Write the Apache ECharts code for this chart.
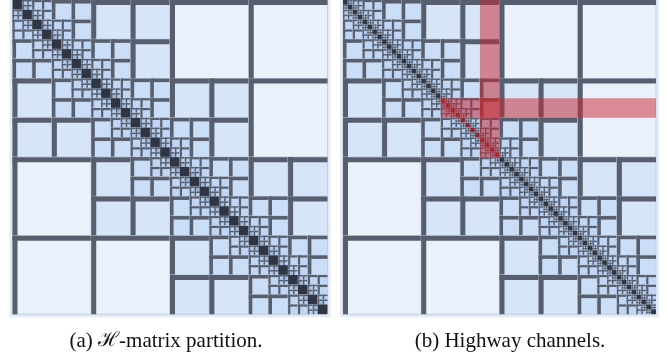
<!DOCTYPE html>
<html><head><meta charset="utf-8">
<script src="https://cdn.jsdelivr.net/npm/echarts@6/dist/echarts.min.js"></script>
<style>html,body{margin:0;padding:0;background:#fff}#c{width:668px;height:353px}</style>
</head><body><div id="c"></div>
<script>
// ---- data ----
const captions = ['(a) ', 'ℋ', '-matrix partition.', '(b) Highway channels.'];
const denseLevels = [5, 6];        // level of the dense diagonal blocks (left, right)
const admissibleGap = [2, 2];      // block (i,j) admissible when |i-j| >= gap (eta = 1)
const channelLevel = 4;            // cluster level used for highway channels
const rowChannel = [5, 5, 1, 11];  // [row, col, rows, cols] in level-4 clusters
const colChannel = [0, 7, 8, 1];
const highlightedDiag = [5, 8];    // level-4 cluster range of highlighted dense blocks

// ---- styles ----
const levelFill = ['#eef3fb', '#eef3fb', '#eaf1fb', '#d7e5f8', '#cadef7', '#bfd6f6', '#b4cff4', '#aecbf3'];
const barColor = '#575f6e';

function buildBlocks(D, gap, hlRange) {
  const N = Math.pow(2, D + 1);
  const clus = N / Math.pow(2, channelLevel);
  const out = [];
  function rec(i, j, l) {
    const s = N / Math.pow(2, l);
    if (l >= 1 && Math.abs(i - j) >= gap) { out.push([j * s, i * s, s, 0, l, 0]); return; }
    if (l === D && i === j) {
      const c = (i * s) / clus;
      const hl = hlRange && c >= hlRange[0] && c < hlRange[1] ? 1 : 0;
      out.push([j * s, i * s, s, 1, l, hl]); return;
    }
    if (l === D + 1) { out.push([j * s, i * s, s, 2, l, 0]); return; }
    for (let a = 0; a < 2; a++) for (let b = 0; b < 2; b++) rec(2 * i + a, 2 * j + b, l + 1);
  }
  rec(0, 0, 0);
  return { N, out, clus };
}

const L = buildBlocks(denseLevels[0], admissibleGap[0], null);
const R = buildBlocks(denseLevels[1], admissibleGap[1], highlightedDiag);

function renderBlock(params, api) {
  const x = api.value(0), y = api.value(1), s = api.value(2), kind = api.value(3), lvl = api.value(4), hl = api.value(5);
  const p0 = api.coord([x, y]), p1 = api.coord([x + s, y + s]);
  const X = p0[0], Y = p0[1], W = p1[0] - p0[0], H = p1[1] - p0[1];
  if (kind === 1) {
    return { type: 'rect', shape: { x: X, y: Y, width: W, height: H }, style: { fill: hl ? '#8e2731' : '#2f3543' } };
  }
  const bw = Math.min(5, 0.8 + W * 0.14);
  const fill = kind === 2 ? '#9fb9dc' : levelFill[Math.min(lvl, levelFill.length - 1)];
  return {
    type: 'group',
    children: [
      { type: 'rect', shape: { x: X, y: Y, width: W, height: H }, style: { fill: fill, stroke: '#c3cfe0', lineWidth: W > 8 ? 1 : 0.4 } },
      { type: 'rect', shape: { x: X, y: Y, width: W, height: bw }, style: { fill: barColor } },
      { type: 'rect', shape: { x: X, y: Y, width: bw, height: H }, style: { fill: barColor } }
    ]
  };
}

function renderPanel(params, api) {
  const n = api.value(0);
  const p0 = api.coord([0, 0]), p1 = api.coord([n, n]);
  return { type: 'rect', shape: { x: p0[0] - 3, y: p0[1] - 3, width: p1[0] - p0[0] + 6, height: p1[1] - p0[1] + 6 },
    style: { fill: '#e4ebf5' } };
}

function renderBand(params, api) {
  const p0 = api.coord([api.value(0), api.value(1)]);
  const p1 = api.coord([api.value(0) + api.value(2), api.value(1) + api.value(3)]);
  return { type: 'rect', shape: { x: p0[0], y: p0[1], width: p1[0] - p0[0], height: p1[1] - p0[1] },
    style: { fill: 'rgba(200,40,50,0.51)' } };
}

const bands = [rowChannel, colChannel].map(c => [c[1] * R.clus, c[0] * R.clus, c[3] * R.clus, c[2] * R.clus]);

const chart = echarts.init(document.getElementById('c'), null, { renderer: 'canvas' });
const serif = '"Liberation Serif", "DejaVu Serif", serif';
chart.setOption({
  animation: false,
  grid: [
    { left: 12.5, top: -0.75, width: 315, height: 315 },
    { left: 343, top: -0.75, width: 313, height: 315 }
  ],
  xAxis: [
    { type: 'value', gridIndex: 0, min: 0, max: L.N, show: false },
    { type: 'value', gridIndex: 1, min: 0, max: R.N, show: false }
  ],
  yAxis: [
    { type: 'value', gridIndex: 0, min: 0, max: L.N, inverse: true, show: false },
    { type: 'value', gridIndex: 1, min: 0, max: R.N, inverse: true, show: false }
  ],
  series: [
    { type: 'custom', xAxisIndex: 0, yAxisIndex: 0, renderItem: renderPanel, data: [[L.N]], z: 1, silent: true },
    { type: 'custom', xAxisIndex: 1, yAxisIndex: 1, renderItem: renderPanel, data: [[R.N]], z: 1, silent: true },
    { type: 'custom', xAxisIndex: 0, yAxisIndex: 0, renderItem: renderBlock, data: L.out, z: 2, silent: true },
    { type: 'custom', xAxisIndex: 1, yAxisIndex: 1, renderItem: renderBlock, data: R.out, z: 2, silent: true },
    { type: 'custom', xAxisIndex: 1, yAxisIndex: 1, renderItem: renderBand, data: bands, z: 3, silent: true }
  ],
  graphic: [
    { type: 'text', x: 166, y: 341, style: {
      text: '{a|' + captions[0] + '}{h|' + captions[1] + '}{a|' + captions[2] + '}',
      align: 'center', verticalAlign: 'middle',
      rich: { a: { fontFamily: serif, fontSize: 21, fill: '#111' }, h: { fontFamily: '"DejaVu Serif", serif', fontSize: 20, fill: '#111' } }
    } },
    { type: 'text', x: 510, y: 341, style: { text: captions[3], font: '21px ' + serif, fill: '#111', align: 'center', verticalAlign: 'middle' } }
  ]
});
</script></body></html>
